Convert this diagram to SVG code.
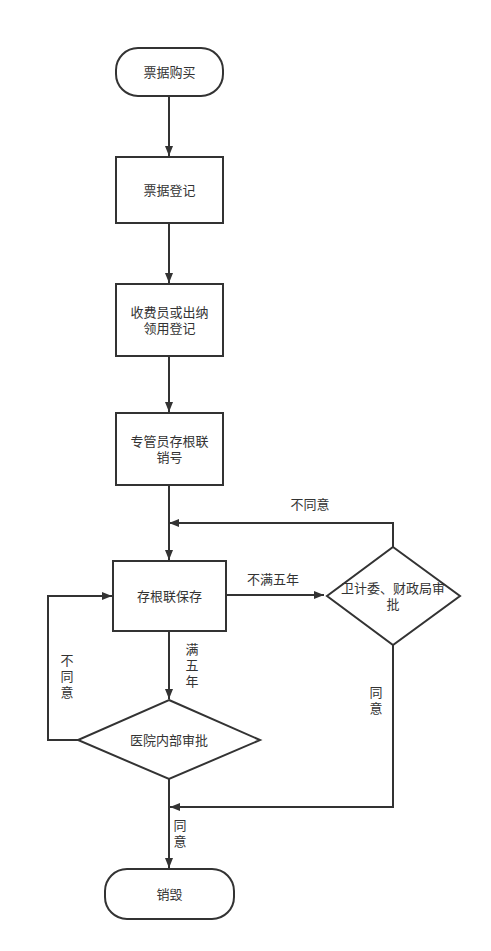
<svg xmlns="http://www.w3.org/2000/svg" width="491" height="951" viewBox="0 0 491 951">
<style>
.s{fill:#fff;stroke:#333;stroke-width:2}
.c{fill:none;stroke:#333;stroke-width:2}
text{font-family:"Liberation Sans","Noto Sans CJK SC",sans-serif;font-size:13px;fill:#333;text-anchor:middle;dominant-baseline:central}
</style>
<defs>
<marker id="a" viewBox="0 0 10 8" refX="10" refY="4" markerWidth="10" markerHeight="8" markerUnits="userSpaceOnUse" orient="auto">
<path d="M0,0 L10,4 L0,8 Z" fill="#333"/>
</marker>
</defs>
<rect width="491" height="951" fill="#fff"/>
<g id="connectors">
<path class="c" d="M169,96 V156" marker-end="url(#a)"/>
<path class="c" d="M169,223 V283" marker-end="url(#a)"/>
<path class="c" d="M169,356 V412" marker-end="url(#a)"/>
<path class="c" d="M169,485 V560" marker-end="url(#a)"/>
<path class="c" d="M227,595 H324" marker-end="url(#a)"/>
<path class="c" d="M393,547 V523 H169" marker-end="url(#a)"/>
<path class="c" d="M169,631 V699" marker-end="url(#a)"/>
<path class="c" d="M78,740 H48 V596 H112" marker-end="url(#a)"/>
<path class="c" d="M169,779 V868" marker-end="url(#a)"/>
<path class="c" d="M393,645 V807 H170" marker-end="url(#a)"/>
<text x="273" y="579">不满五年</text>
<text x="310" y="504">不同意</text>
<text x="192" y="649">满</text>
<text x="192" y="665">五</text>
<text x="192" y="681">年</text>
<text x="67" y="660">不</text>
<text x="67" y="676">同</text>
<text x="67" y="692">意</text>
<text x="180" y="825">同</text>
<text x="180" y="841">意</text>
<text x="376" y="692">同</text>
<text x="376" y="708">意</text>
</g>
<g id="n1"><rect class="s" x="116" y="48" width="107" height="48" rx="22"/><text x="169.5" y="72">票据购买</text></g>
<g id="n2"><rect class="s" x="116" y="157" width="107" height="66"/><text x="169.5" y="190">票据登记</text></g>
<g id="n3"><rect class="s" x="116" y="284" width="107" height="72"/><text x="169.5" y="312">收费员或出纳</text><text x="169.5" y="328">领用登记</text></g>
<g id="n4"><rect class="s" x="116" y="413" width="107" height="72"/><text x="169.5" y="441">专管员存根联</text><text x="169.5" y="457">销号</text></g>
<g id="n5"><rect class="s" x="113" y="561" width="113" height="70"/><text x="169.5" y="596">存根联保存</text></g>
<g id="d1"><path class="s" d="M393,547 L460,596 L393,645 L327,596 Z"/><text x="393" y="588">卫计委、财政局审</text><text x="393" y="604">批</text></g>
<g id="d2"><path class="s" d="M169,700 L260,740 L169,779 L78,740 Z"/><text x="169" y="740">医院内部审批</text></g>
<g id="n6"><rect class="s" x="105" y="869" width="129" height="50" rx="22"/><text x="169.5" y="894">销毁</text></g>
</svg>
